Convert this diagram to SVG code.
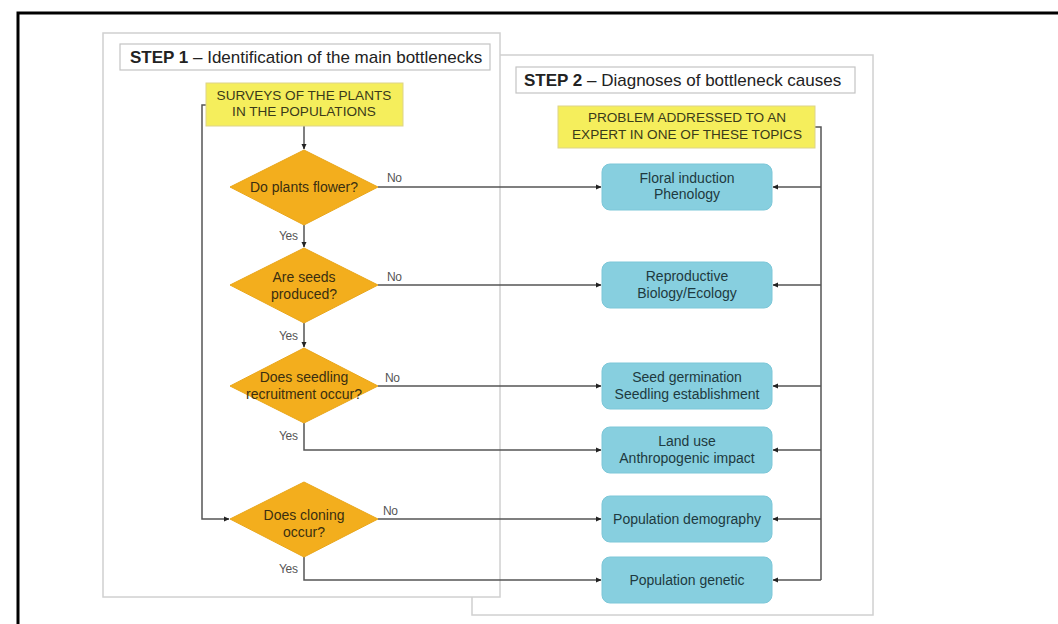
<svg xmlns="http://www.w3.org/2000/svg" width="1058" height="624" viewBox="0 0 1058 624">
<defs>
<marker id="arr" markerWidth="6" markerHeight="6" refX="5" refY="3" orient="auto" markerUnits="userSpaceOnUse">
<path d="M0,0.5 L5.5,3 L0,5.5 z" fill="#222"/>
</marker>
<style>
text{font-family:"Liberation Sans",Arial,sans-serif;}
.panel{fill:#fff;stroke:#d0d0d0;stroke-width:1.5;}
.hdr{fill:#fff;stroke:#c4c4c4;stroke-width:1.2;}
.hdrt{font-size:17px;fill:#222;}
.yel{fill:#f5ee5c;stroke:#ddd48a;stroke-width:1;}
.yelt{font-size:13.6px;fill:#3a3a1a;text-anchor:middle;}
.dia{fill:#f3ae1d;stroke:#e9a61a;stroke-width:1;}
.diat{font-size:14px;fill:#3a2e10;text-anchor:middle;}
.box{fill:#87cfdf;stroke:#7cc7d8;stroke-width:1;}
.boxt{font-size:14px;fill:#1e3a40;text-anchor:middle;}
.lbl{font-size:12px;fill:#555;letter-spacing:-0.3px;}
.con{fill:none;stroke:#555;stroke-width:1.5;}
</style>
</defs>
<rect x="0" y="0" width="1058" height="624" fill="#fff"/>
<path d="M18,624 L18,13 L1058,13" fill="none" stroke="#000" stroke-width="3"/>

<g id="step2-panel">
<rect class="panel" x="472" y="55" width="401" height="560"/>
</g>
<g id="step1-panel">
<rect class="panel" x="103" y="33" width="397" height="564"/>
</g>

<g id="step1-header">
<rect class="hdr" x="120" y="44" width="370" height="26"/>
<text class="hdrt" x="130" y="63"><tspan font-weight="bold">STEP 1</tspan> – Identification of the main bottlenecks</text>
</g>
<g id="step2-header">
<rect class="hdr" x="516" y="67" width="339" height="26"/>
<text class="hdrt" x="524" y="86"><tspan font-weight="bold">STEP 2</tspan> – Diagnoses of bottleneck causes</text>
</g>

<g id="connectors">
<path class="con" d="M304,126 L304,149" marker-end="url(#arr)"/>
<path class="con" d="M304,225 L304,247" marker-end="url(#arr)"/>
<path class="con" d="M304,323 L304,347" marker-end="url(#arr)"/>
<path class="con" d="M304,423 L304,450 L601,450" marker-end="url(#arr)"/>
<path class="con" d="M206,105 L202,105 L202,519 L229,519" marker-end="url(#arr)"/>
<path class="con" d="M304,557 L304,580 L601,580" marker-end="url(#arr)"/>
<path class="con" d="M378,187 L601,187" marker-end="url(#arr)"/>
<path class="con" d="M378,285 L601,285" marker-end="url(#arr)"/>
<path class="con" d="M378,386 L601,386" marker-end="url(#arr)"/>
<path class="con" d="M378,519 L601,519" marker-end="url(#arr)"/>
<path class="con" d="M815,127 L821,127 L821,580"/>
<path class="con" d="M821,187 L773,187" marker-end="url(#arr)"/>
<path class="con" d="M821,285 L773,285" marker-end="url(#arr)"/>
<path class="con" d="M821,386 L773,386" marker-end="url(#arr)"/>
<path class="con" d="M821,450 L773,450" marker-end="url(#arr)"/>
<path class="con" d="M821,519 L773,519" marker-end="url(#arr)"/>
<path class="con" d="M821,580 L773,580" marker-end="url(#arr)"/>
<text class="lbl" x="279" y="240">Yes</text>
<text class="lbl" x="279" y="340">Yes</text>
<text class="lbl" x="279" y="440">Yes</text>
<text class="lbl" x="279" y="573">Yes</text>
<text class="lbl" x="387" y="182">No</text>
<text class="lbl" x="387" y="281">No</text>
<text class="lbl" x="385" y="382">No</text>
<text class="lbl" x="383" y="515">No</text>
</g>

<g id="surveys">
<rect class="yel" x="206" y="83" width="197" height="43"/>
<text class="yelt" x="304" y="100">SURVEYS OF THE PLANTS</text>
<text class="yelt" x="304" y="116">IN THE POPULATIONS</text>
</g>
<g id="q-flower">
<polygon class="dia" points="304,150 378,187 304,225 230,187"/>
<text class="diat" x="304" y="192">Do plants flower?</text>
</g>
<g id="q-seeds">
<polygon class="dia" points="304,248 378,285 304,323 230,285"/>
<text class="diat" x="304" y="282">Are seeds</text>
<text class="diat" x="304" y="299">produced?</text>
</g>
<g id="q-recruitment">
<polygon class="dia" points="304,348 378,386 304,423 230,386"/>
<text class="diat" x="304" y="382">Does seedling</text>
<text class="diat" x="304" y="399">recruitment occur?</text>
</g>
<g id="q-cloning">
<polygon class="dia" points="304,482 378,519 304,557 230,519"/>
<text class="diat" x="304" y="520">Does cloning</text>
<text class="diat" x="304" y="537">occur?</text>
</g>

<g id="problem">
<rect class="yel" x="558" y="106" width="257" height="42"/>
<text class="yelt" x="687" y="122">PROBLEM ADDRESSED TO AN</text>
<text class="yelt" x="687" y="139">EXPERT IN ONE OF THESE TOPICS</text>
</g>
<g id="floral">
<rect class="box" x="602" y="164" width="170" height="46" rx="8"/>
<text class="boxt" x="687" y="183">Floral induction</text>
<text class="boxt" x="687" y="199">Phenology</text>
</g>
<g id="reproductive">
<rect class="box" x="602" y="262" width="170" height="46" rx="8"/>
<text class="boxt" x="687" y="281">Reproductive</text>
<text class="boxt" x="687" y="298">Biology/Ecology</text>
</g>
<g id="seed">
<rect class="box" x="602" y="363" width="170" height="46" rx="8"/>
<text class="boxt" x="687" y="382">Seed germination</text>
<text class="boxt" x="687" y="399">Seedling establishment</text>
</g>
<g id="landuse">
<rect class="box" x="602" y="427" width="170" height="46" rx="8"/>
<text class="boxt" x="687" y="446">Land use</text>
<text class="boxt" x="687" y="463">Anthropogenic impact</text>
</g>
<g id="demography">
<rect class="box" x="602" y="496" width="170" height="46" rx="8"/>
<text class="boxt" x="687" y="524">Population demography</text>
</g>
<g id="genetic">
<rect class="box" x="602" y="557" width="170" height="46" rx="8"/>
<text class="boxt" x="687" y="585">Population genetic</text>
</g>
</svg>
